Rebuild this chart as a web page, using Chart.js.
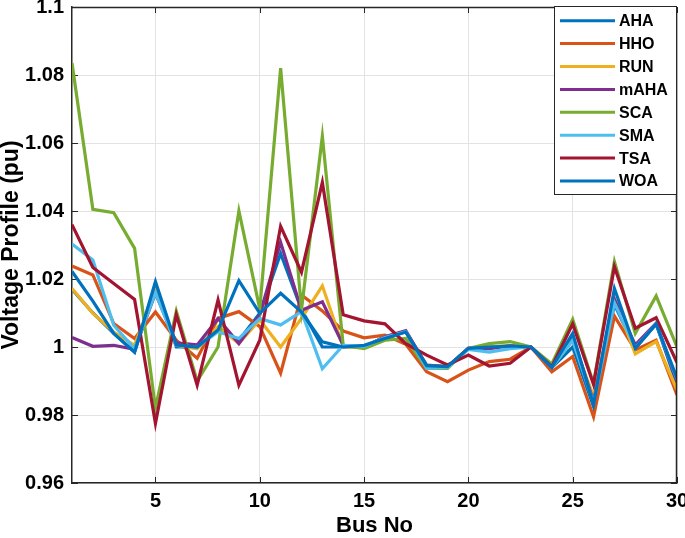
<!DOCTYPE html>
<html>
<head>
<meta charset="utf-8">
<script src="https://cdn.jsdelivr.net/npm/chart.js@4.4.0/dist/chart.umd.min.js"></script>
<style>
  html, body { margin: 0; padding: 0; background: #ffffff; }
  #wrap { width: 685px; height: 538px; }
</style>
</head>
<body>
<div id="wrap"><canvas id="c" width="685" height="538"></canvas></div>
<script>
const buses = [1,2,3,4,5,6,7,8,9,10,11,12,13,14,15,16,17,18,19,20,21,22,23,24,25,26,27,28,29,30];

const AHA  = [1.0170,1.0100,1.0040,0.9985,1.0175,1.0000,1.0000,1.0050,1.0020,1.0099,1.0275,1.0110,1.0000,1.0000,1.0000,1.0030,1.0045,0.9947,0.9942,0.9996,1.0000,1.0003,1.0000,0.9940,1.0000,0.9825,1.0125,0.9996,1.0068,0.9890];
const HHO  = [1.0238,1.0212,1.0069,1.0025,1.0103,1.0020,0.9967,1.0084,1.0104,1.0060,0.9923,1.0153,1.0106,1.0047,1.0027,1.0035,1.0008,0.9927,0.9898,0.9932,0.9957,0.9964,1.0000,0.9927,0.9972,0.9795,1.0091,0.9991,1.0020,0.9859];
const RUN  = [1.0172,1.0099,1.0044,1.0005,1.0165,1.0005,0.9995,1.0060,1.0010,1.0080,1.0000,1.0084,1.0180,1.0000,1.0000,1.0030,1.0045,0.9947,0.9942,0.9996,1.0000,1.0005,1.0000,0.9940,1.0020,0.9854,1.0143,0.9980,1.0016,0.9874];
const mAHA = [1.0028,1.0002,1.0005,0.9993,1.0158,1.0012,1.0006,1.0084,1.0010,1.0094,1.0308,1.0108,1.0133,1.0005,1.0000,1.0030,1.0048,0.9945,0.9942,0.9996,0.9995,1.0003,1.0000,0.9940,1.0030,0.9840,1.0140,1.0006,1.0070,0.9898];
const SCA  = [1.0835,1.0405,1.0395,1.0290,0.9820,1.0105,0.9900,1.0000,1.0400,1.0112,1.0820,1.0110,1.0620,1.0005,0.9995,1.0020,1.0025,0.9937,0.9937,0.9996,1.0010,1.0016,1.0000,0.9950,1.0081,0.9893,1.0251,1.0040,1.0150,1.0000];
const SMA  = [1.0303,1.0256,1.0064,0.9995,1.0160,1.0005,1.0000,1.0045,1.0025,1.0084,1.0065,1.0104,0.9936,1.0005,1.0002,1.0028,1.0045,0.9937,0.9940,0.9993,0.9985,0.9995,1.0000,0.9940,1.0020,0.9835,1.0130,0.9998,1.0068,0.9905];
const TSA  = [1.0360,1.0234,1.0187,1.0140,0.9775,1.0095,0.9888,1.0138,0.9888,1.0020,1.0355,1.0220,1.0484,1.0095,1.0077,1.0068,1.0010,0.9976,0.9947,0.9976,0.9944,0.9952,1.0000,0.9942,1.0068,0.9890,1.0236,1.0055,1.0086,0.9954];
const WOA  = [1.0222,1.0135,1.0040,0.9985,1.0192,1.0006,1.0000,1.0050,1.0195,1.0099,1.0158,1.0103,1.0015,1.0000,1.0005,1.0025,1.0044,0.9945,0.9942,0.9996,1.0000,1.0003,1.0000,0.9940,1.0040,0.9830,1.0172,0.9996,1.0068,0.9908];

const seriesNames = ['AHA','HHO','RUN','mAHA','SCA','SMA','TSA','WOA'];
const seriesData  = [AHA, HHO, RUN, mAHA, SCA, SMA, TSA, WOA];
const seriesColors = ['#0072BD','#D95319','#EDB120','#7E2F8E','#77AC30','#4DBEEE','#A2142F','#0072BD'];

const xTicks = [5,10,15,20,25,30];
const yTicks = [0.96,0.98,1.00,1.02,1.04,1.06,1.08,1.10];
const yTickLabels = ['0.96','0.98','1','1.02','1.04','1.06','1.08','1.1'];

const FONT = "'Liberation Sans', Arial, Helvetica, sans-serif";
const AXIS_COLOR = '#262626';

const datasets = seriesNames.map((name, i) => ({
  label: name,
  data: buses.map((b, k) => ({x: b, y: seriesData[i][k]})),
  borderColor: seriesColors[i],
  backgroundColor: seriesColors[i],
  borderWidth: 3.2,
  pointRadius: 0,
  tension: 0,
  fill: false,
  order: seriesNames.length - i
}));

const framePlugin = {
  id: 'frame',
  beforeDatasetsDraw(chart) {
    const {ctx, chartArea: {left, right, top, bottom}, scales: {x, y}} = chart;
    ctx.save();
    ctx.strokeStyle = AXIS_COLOR;
    ctx.lineWidth = 1;
    ctx.beginPath();
    const tl = 6;
    xTicks.forEach(v => {
      const px = Math.round(x.getPixelForValue(v)) + 0.5;
      ctx.moveTo(px, bottom); ctx.lineTo(px, bottom - tl);
      ctx.moveTo(px, top); ctx.lineTo(px, top + tl);
    });
    yTicks.forEach(v => {
      const py = Math.round(y.getPixelForValue(v)) + 0.5;
      ctx.moveTo(left, py); ctx.lineTo(left + tl, py);
      ctx.moveTo(right, py); ctx.lineTo(right - tl, py);
    });
    ctx.stroke();
    ctx.restore();
  },
  afterDraw(chart) {
    const {ctx, chartArea: {left, right, top, bottom}} = chart;
    ctx.save();
    ctx.strokeStyle = AXIS_COLOR;
    ctx.lineWidth = 1.5;
    ctx.beginPath();
    ctx.moveTo(left, top + 0.5); ctx.lineTo(right, top + 0.5);
    ctx.moveTo(right - 0.5, top); ctx.lineTo(right - 0.5, bottom);
    ctx.stroke();

    // legend box
    const bx = 554, by = 6, bw = 122, bh = 188;
    ctx.fillStyle = '#ffffff';
    ctx.fillRect(bx, by, bw, bh);
    ctx.lineWidth = 1;
    ctx.strokeStyle = AXIS_COLOR;
    ctx.strokeRect(bx + 0.5, by + 0.5, bw, bh);
    ctx.font = "bold 16px " + FONT;
    ctx.textAlign = 'left';
    ctx.textBaseline = 'middle';
    chart.data.datasets.forEach((ds, i) => {
      const ry = 20.7 + i * 22.9;
      ctx.strokeStyle = ds.borderColor;
      ctx.lineWidth = 3;
      ctx.beginPath();
      ctx.moveTo(560, ry); ctx.lineTo(615, ry);
      ctx.stroke();
      ctx.fillStyle = '#000000';
      ctx.fillText(ds.label, 619, ry + 1);
    });
    ctx.restore();
  }
};

new Chart(document.getElementById('c'), {
  type: 'line',
  data: { datasets },
  options: {
    responsive: false,
    animation: false,
    devicePixelRatio: 1,
    layout: { padding: { left: 0, top: 7, right: 8, bottom: 0 } },
    plugins: { legend: { display: false }, tooltip: { enabled: false } },
    scales: {
      x: {
        type: 'linear',
        min: 1, max: 30,
        afterBuildTicks: s => { s.ticks = xTicks.map(v => ({value: v})); },
        afterFit: s => { s.height = 55; s.paddingLeft = 0; s.paddingRight = 0; },
        grid: { color: '#e3e3e3', lineWidth: 1, drawTicks: false },
        border: { display: true, color: AXIS_COLOR, width: 1.5 },
        ticks: {
          color: '#000000',
          font: { family: FONT, size: 20, weight: 'bold' },
          padding: 6,
          maxRotation: 0,
          callback: v => String(v)
        },
        title: {
          display: true, text: 'Bus No', color: '#000000',
          font: { family: FONT, size: 22, weight: 'bold', lineHeight: 1 },
          padding: { top: 0, bottom: 1 }
        }
      },
      y: {
        min: 0.96, max: 1.1,
        afterBuildTicks: s => { s.ticks = yTicks.map(v => ({value: v})); },
        afterFit: s => { s.width = 72; s.paddingTop = 0; s.paddingBottom = 0; },
        grid: { color: '#e3e3e3', lineWidth: 1, drawTicks: false },
        border: { display: true, color: AXIS_COLOR, width: 1.5 },
        ticks: {
          color: '#000000',
          font: { family: FONT, size: 20, weight: 'bold' },
          padding: 8,
          callback: (v, idx) => yTickLabels[idx]
        },
        title: {
          display: true, text: 'Voltage Profile (pu)', color: '#000000',
          font: { family: FONT, size: 23, weight: 'bold', lineHeight: 1 },
          padding: { top: 0, bottom: 0 }
        }
      }
    }
  },
  plugins: [framePlugin]
});
</script>
</body>
</html>
